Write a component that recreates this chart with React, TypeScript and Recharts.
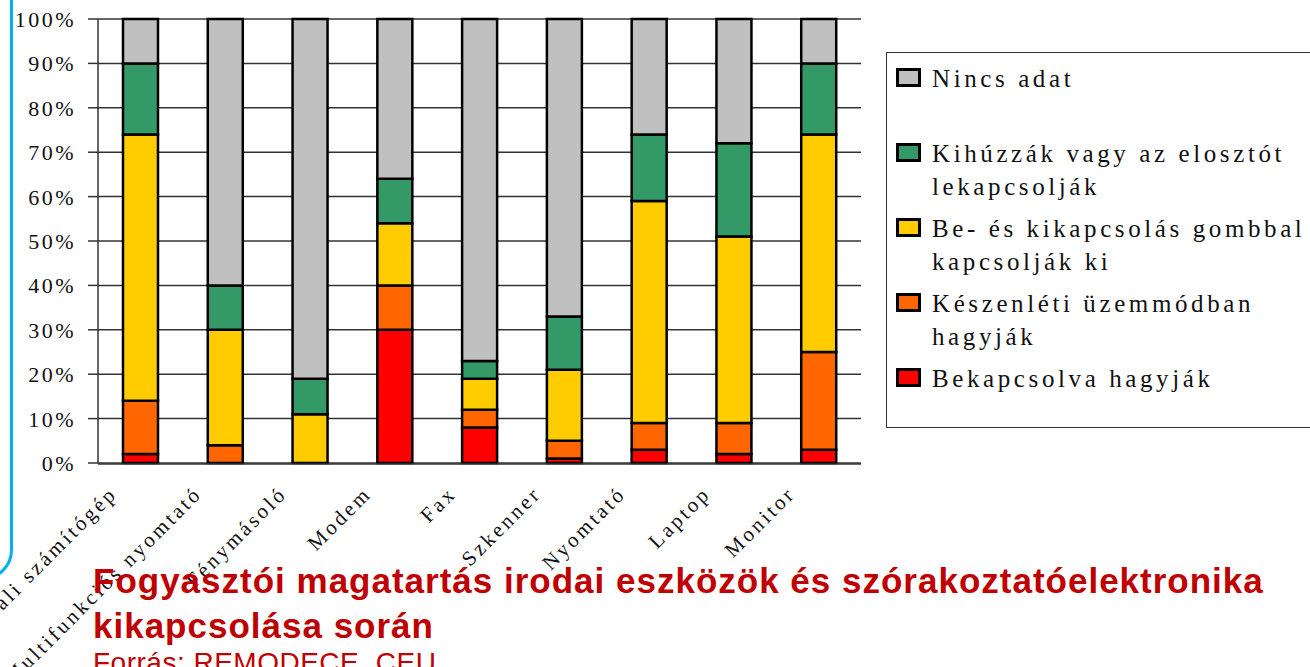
import React from "react";
import { BarChart, Bar, XAxis, YAxis, CartesianGrid, Legend } from "recharts";

// categories on the x axis
const categories = [
  "Asztali számítógép",
  "Multifunkciós nyomtató",
  "Fénymásoló",
  "Modem",
  "Fax",
  "Szkenner",
  "Nyomtató",
  "Laptop",
  "Monitor",
];

// shares in percent, bottom of the stack first
const bekapcsolva = [2, 0, 0, 30, 8, 1, 3, 2, 3];
const keszenleti = [12, 4, 0, 10, 4, 4, 6, 7, 22];
const gombbal = [60, 26, 11, 14, 7, 16, 50, 42, 49];
const kihuzzak = [16, 10, 8, 10, 4, 12, 15, 21, 16];
const nincsAdat = [10, 60, 81, 36, 77, 67, 26, 28, 10];

const yTicks = [0, 10, 20, 30, 40, 50, 60, 70, 80, 90, 100];

const series = [
  { key: "bekapcsolva", name: "Bekapcsolva hagyják", color: "#FF0000", values: bekapcsolva },
  { key: "keszenleti", name: "Készenléti üzemmódban\nhagyják", color: "#FF6600", values: keszenleti },
  { key: "gombbal", name: "Be- és kikapcsolás gombbal\nkapcsolják ki", color: "#FFCC00", values: gombbal },
  { key: "kihuzzak", name: "Kihúzzák vagy az elosztót\nlekapcsolják", color: "#339966", values: kihuzzak },
  { key: "nincs", name: "Nincs adat", color: "#C0C0C0", values: nincsAdat },
];

const data = categories.map((name, i) => {
  const row: Record<string, string | number> = { name };
  series.forEach((s) => {
    row[s.key] = s.values[i];
  });
  return row;
});

const SERIF = '"Times New Roman", "Liberation Serif", serif';
const SANS = "Liberation Sans, Arial, sans-serif";

function PercentTick({ x, y, payload }: any) {
  return (
    <text
      x={x}
      y={y}
      dy="0.36em"
      textAnchor="end"
      style={{ fontFamily: SERIF, fontSize: 22, letterSpacing: 2.5 }}
      fill="#111"
    >
      {`${payload.value}%`}
    </text>
  );
}

function CategoryTick({ x, y, payload }: any) {
  const ax = x - 22;
  const ay = y + 30;
  return (
    <text
      x={ax}
      y={ay}
      textAnchor="end"
      transform={`rotate(-45 ${ax} ${ay})`}
      style={{ fontFamily: SERIF, fontSize: 21, letterSpacing: 3 }}
      fill="#111"
    >
      {payload.value}
    </text>
  );
}

function LegendBox() {
  // Excel draws the legend top series first
  const items = [...series].reverse();
  return (
    <div
      style={{
        boxSizing: "border-box",
        width: 470,
        height: 376,
        border: "1.5px solid #333",
        background: "#fff",
        paddingTop: 9,
        fontFamily: SERIF,
        fontSize: 25,
        lineHeight: "33px",
        letterSpacing: 3.6,
        color: "#111",
      }}
    >
      {items.map((s) => (
        <div key={s.key} style={{ position: "relative", minHeight: 66, marginBottom: 9 }}>
          <span
            style={{
              position: "absolute",
              left: 9,
              top: 6,
              width: 25,
              height: 19,
              boxSizing: "border-box",
              border: "3px solid #000",
              background: s.color,
            }}
          />
          <div style={{ paddingLeft: 45, whiteSpace: "pre" }}>{s.name}</div>
        </div>
      ))}
    </div>
  );
}

export default function App() {
  const edgeTicks = [...categories.map((_, i) => i), categories.length];
  return (
    <div
      style={{
        position: "absolute",
        left: 0,
        top: 0,
        width: 1310,
        height: 667,
        overflow: "hidden",
        background: "#fff",
      }}
    >
      <BarChart
        width={1310}
        height={667}
        data={data}
        margin={{ top: 19, right: 449, left: 8, bottom: 195 }}
      >
        <CartesianGrid vertical={false} stroke="#333" strokeWidth={1.5} />
        <XAxis
          dataKey="name"
          height={1}
          tickSize={0}
          axisLine={false}
          tickLine={false}
          interval={0}
          tick={<CategoryTick />}
        />
        <XAxis
          xAxisId="edges"
          type="number"
          domain={[0, categories.length]}
          allowDataOverflow
          ticks={edgeTicks}
          interval={0}
          tick={false}
          tickSize={8}
          height={8}
          axisLine={{ stroke: "#333", strokeWidth: 1.5 }}
          tickLine={{ stroke: "#333", strokeWidth: 1.5 }}
        />
        <YAxis
          domain={[0, 100]}
          ticks={yTicks}
          interval={0}
          width={90}
          tickSize={10}
          tickMargin={12}
          axisLine={{ stroke: "#333", strokeWidth: 1.5 }}
          tickLine={{ stroke: "#333", strokeWidth: 1.5 }}
          tick={<PercentTick />}
        />
        <Legend
          layout="vertical"
          align="center"
          verticalAlign="middle"
          content={() => <LegendBox />}
          wrapperStyle={{ left: 886, top: 52, width: 470, height: 376 }}
        />
        {series.map((s) => (
          <Bar
            key={s.key}
            dataKey={s.key}
            name={s.name}
            stackId="a"
            fill={s.color}
            stroke="#000"
            strokeWidth={2.5}
            barSize={35}
            isAnimationActive={false}
          />
        ))}
      </BarChart>

      {/* slide frame edge on the left */}
      <div
        style={{
          position: "absolute",
          left: -60,
          top: -30,
          width: 67,
          height: 604,
          border: "3px solid #00B0F0",
          borderBottomRightRadius: 30,
          pointerEvents: "none",
        }}
      />

      <svg
        width={1310}
        height={667}
        style={{ position: "absolute", left: 0, top: 0, pointerEvents: "none" }}
      >
        <text x={93} y={593} fontFamily={SANS} fontWeight="bold" fontSize={35} letterSpacing={1} fill="#C00000">
          Fogyasztói magatartás irodai eszközök és szórakoztatóelektronika
        </text>
        <text x={93} y={638} fontFamily={SANS} fontWeight="bold" fontSize={35} letterSpacing={1} fill="#C00000">
          kikapcsolása során
        </text>
        <text x={93} y={672} fontFamily={SANS} fontSize={28} letterSpacing={0.5} fill="#C00000">
          Forrás: REMODECE, CEU
        </text>
      </svg>
    </div>
  );
}
